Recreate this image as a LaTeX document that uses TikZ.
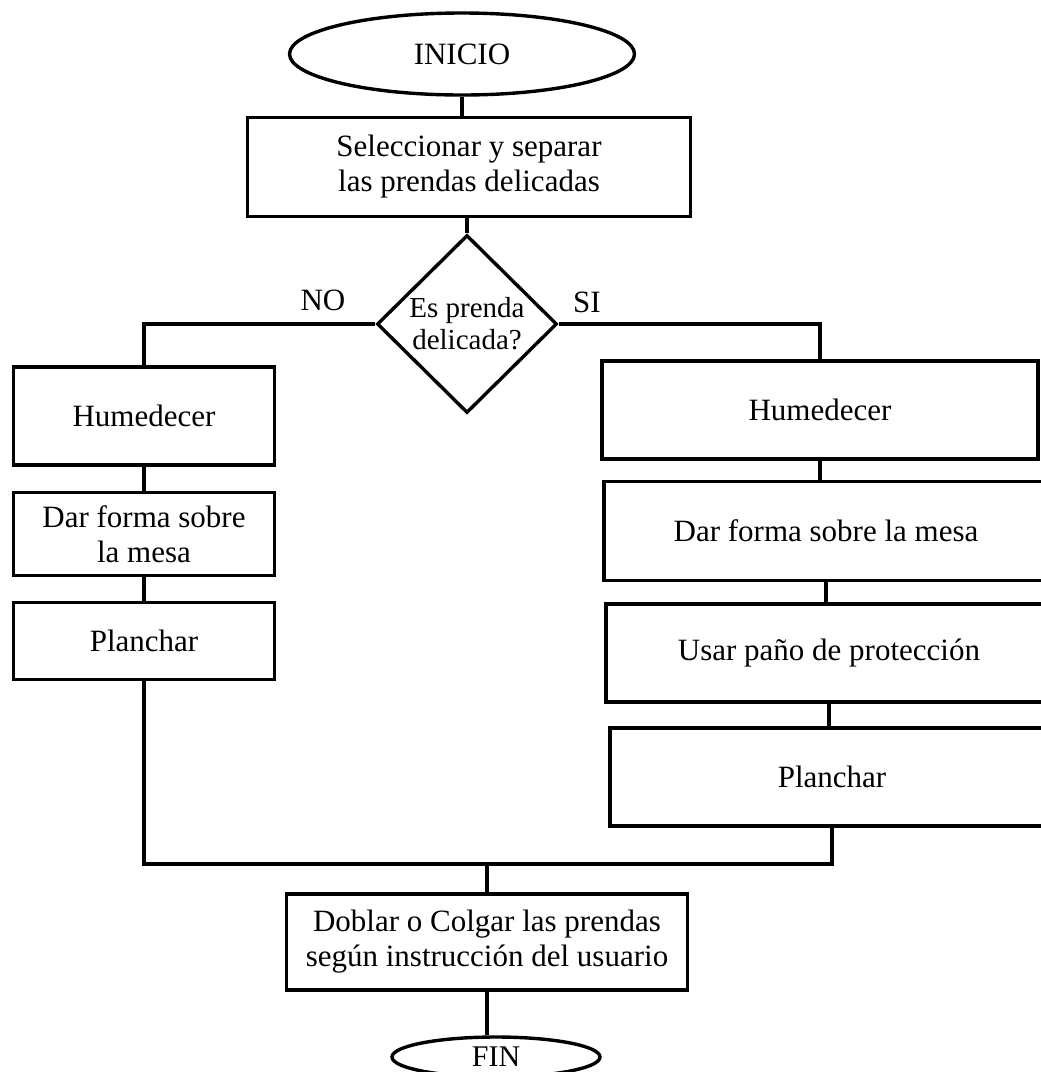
\documentclass[tikz,border=0pt]{standalone}
\usepackage{fontspec}
\setmainfont{Liberation Serif}
\usepackage{tikz}
\usetikzlibrary{shapes,positioning,calc}

\begin{document}
\begin{tikzpicture}[x=1pt, y=-1pt, line width=3.4pt,
   paso/.style={draw, rectangle, align=center, inner sep=0pt, font=\fontsize{31}{35}\selectfont},
   terminal/.style={draw, ellipse, inner sep=0pt, font=\fontsize{31}{35}\selectfont},
   decision/.style={draw, diamond, align=center, inner sep=-3pt, font=\fontsize{29}{32}\selectfont},
   etiqueta/.style={font=\fontsize{31}{34}\selectfont}]
   \useasboundingbox (0,0) rectangle (1041,1072);
   \node[terminal, minimum width=345pt, minimum height=82pt] (inicio) at (462,54) {INICIO};
   \node[paso, minimum width=443pt, minimum height=99pt] (selec) at (469,167) {Seleccionar y separar\\las prendas delicadas};
   \node[decision, minimum width=180pt, minimum height=178pt] (dec) at (467,324) {Es prenda\\delicada?};
   \node[etiqueta] (no) at (323,300) {NO};
   \node[etiqueta] (si) at (587,302) {SI};
   \node[paso, minimum width=261pt, minimum height=98pt] (hum1) at (144,416) {Humedecer};
   \node[paso, minimum width=261pt, minimum height=83pt] (dar1) at (144,534) {Dar forma sobre\\la mesa};
   \node[paso, minimum width=261pt, minimum height=77pt] (plan1) at (144,641) {Planchar};
   \node[paso, minimum width=436pt, minimum height=98pt] (hum2) at (820,410) {Humedecer};
   \node[paso, minimum width=444pt, minimum height=99pt] (dar2) at (826,531) {Dar forma sobre la mesa};
   \node[paso, minimum width=446pt, minimum height=98pt] (usar) at (829,653) {Usar paño de protección};
   \node[paso, minimum width=444pt, minimum height=98pt] (plan2) at (832,777) {Planchar};
   \coordinate (junta) at (487,864);
   \node[paso, minimum width=401pt, minimum height=96pt] (doblar) at (487,942) {Doblar o Colgar las prendas\\según instrucción del usuario};
   \node[terminal, minimum width=208pt, minimum height=40pt, font=\fontsize{30}{34}\selectfont] (fin) at (496,1057) {FIN};
   \draw (inicio.south) -- (inicio.south |- selec.north);
   \draw (selec.south -| dec.north) -- (dec.north);
   \draw (dec.west) -| (hum1.north);
   \draw (dec.east) -| (hum2.north);
   \draw (hum1.south) -- (hum1.south |- dar1.north);
   \draw (dar1.south) -- (dar1.south |- plan1.north);
   \draw (hum2.south) -- (hum2.south |- dar2.north);
   \draw (dar2.south) -- (dar2.south |- usar.north);
   \draw (usar.south) -- (usar.south |- plan2.north);
   \draw (plan1.south) |- (junta) -| (plan2.south);
   \draw (junta) -- (doblar.north);
   \draw (doblar.south) -- (doblar.south |- fin.north);
\end{tikzpicture}
\end{document}
